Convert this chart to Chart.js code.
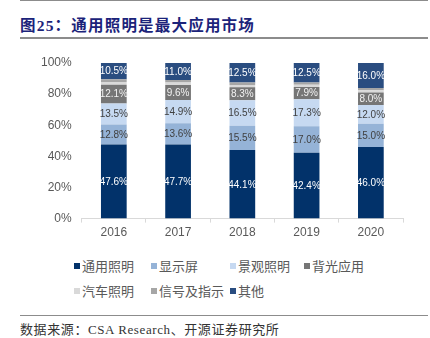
<!DOCTYPE html>
<html>
<head>
<meta charset="utf-8">
<script src="https://cdn.jsdelivr.net/npm/chart.js@4.4.0/dist/chart.umd.min.js"></script>
<style>
  html, body { margin: 0; padding: 0; background: #fff; }
  #page { position: relative; width: 430px; height: 338px; overflow: hidden; background: #fff; }
  .rule { position: absolute; left: 20px; width: 408px; background: #8c8c8c; }
  #title {
    position: absolute; left: 20px; top: 13px;
    font-family: "Liberation Serif", "Noto Sans CJK SC", serif;
    font-weight: 700; font-size: 15.5px; letter-spacing: 1.2px;
    color: #1b237a; white-space: nowrap;
  }
  #chartBox { position: absolute; left: 0; top: 45px; width: 430px; height: 205px; }
  #legend {
    position: absolute; left: 74px; top: 257px;
    display: grid; grid-template-columns: 77px 79px 74px auto;
    row-gap: 8px;
    font-family: "Noto Sans CJK SC", sans-serif; font-size: 13px; color: #595959;
  }
  .item { display: flex; align-items: center; white-space: nowrap; height: 17px; }
  .swatch { width: 6px; height: 6px; margin-right: 2px; flex: none; }
  #source {
    position: absolute; left: 20px; top: 319px;
    font-family: "Liberation Serif", "Noto Sans CJK SC", serif;
    font-size: 13px; color: #333; white-space: nowrap; letter-spacing: 0.6px;
  }
</style>
</head>
<body>
<div id="page">
  <div class="rule" style="top:0px;height:1px;"></div>
  <div id="title">图25：通用照明是最大应用市场</div>
  <div class="rule" style="top:37px;height:2px;"></div>
  <div id="chartBox"><canvas id="c"></canvas></div>
  <div id="legend"></div>
  <div class="rule" style="top:315px;height:1px;"></div>
  <div id="source">数据来源：CSA Research、开源证券研究所</div>
</div>
<script>
// LED application market share by year (%)
const years = ['2016', '2017', '2018', '2019', '2020'];
const generalLighting = [47.6, 47.7, 44.1, 42.4, 46.0];
const displayScreens  = [12.8, 13.6, 15.5, 17.0, 15.0];
const landscape       = [13.5, 14.9, 16.5, 17.3, 12.0];
const backlight       = [12.1,  9.6,  8.3,  7.9,  8.0];
const automotive      = [ 1.8,  1.6,  1.5,  1.4,  1.5];
const signalling      = [ 1.7,  1.6,  1.6,  1.5,  1.5];
const others          = [10.5, 11.0, 12.5, 12.5, 16.0];
const yTicks = [0, 20, 40, 60, 80, 100];

const series = [
  { label: '通用照明',   data: generalLighting, color: '#02326a', text: '#ffffff', show: true },
  { label: '显示屏',     data: displayScreens,  color: '#95b3d7', text: '#404040', show: true },
  { label: '景观照明',   data: landscape,       color: '#c6d9f1', text: '#404040', show: true },
  { label: '背光应用',   data: backlight,       color: '#767676', text: '#f2f2f2', show: true },
  { label: '汽车照明',   data: automotive,      color: '#d9d9d9', text: '#404040', show: false },
  { label: '信号及指示', data: signalling,      color: '#a6a6a6', text: '#404040', show: false },
  { label: '其他',       data: others,          color: '#2a4d80', text: '#ffffff', show: true }
];

// value labels centred in each segment
const segmentLabels = {
  id: 'segmentLabels',
  afterDatasetsDraw(chart) {
    const ctx = chart.ctx;
    ctx.save();
    ctx.font = '10px "Liberation Sans", Arial, sans-serif';
    ctx.textAlign = 'center';
    ctx.textBaseline = 'middle';
    chart.data.datasets.forEach((ds, i) => {
      if (!ds.showValues) return;
      const meta = chart.getDatasetMeta(i);
      meta.data.forEach((bar, j) => {
        const p = bar.getProps(['x', 'y', 'base'], true);
        ctx.fillStyle = ds.valueColor;
        ctx.fillText(ds.data[j].toFixed(1) + '%', p.x, (p.y + p.base) / 2 + 0.5);
      });
    });
    ctx.restore();
  }
};

const chart = new Chart(document.getElementById('c'), {
  type: 'bar',
  data: {
    labels: years,
    datasets: series.map(s => ({
      label: s.label,
      data: s.data,
      backgroundColor: s.color,
      borderWidth: 0,
      showValues: s.show,
      valueColor: s.text,
      categoryPercentage: 1,
      barPercentage: 0.4
    }))
  },
  options: {
    responsive: true,
    maintainAspectRatio: false,
    animation: false,
    layout: { padding: { left: 31, right: 27, top: 18, bottom: 7 } },
    plugins: { legend: { display: false }, tooltip: { enabled: false } },
    scales: {
      x: {
        stacked: true,
        grid: { display: true, drawOnChartArea: false, drawTicks: true, tickLength: 4, color: '#d9d9d9', offset: true },
        border: { display: true, color: '#d9d9d9', width: 1 },
        ticks: { color: '#595959', padding: 3, font: { family: '"Liberation Sans", Arial, sans-serif', size: 12 } }
      },
      y: {
        stacked: true,
        min: 0, max: 100,
        afterBuildTicks(scale) { scale.ticks = yTicks.map(v => ({ value: v })); },
        grid: { display: false, drawTicks: false },
        border: { display: false },
        ticks: {
          color: '#595959', padding: 10,
          font: { family: '"Liberation Sans", Arial, sans-serif', size: 12 },
          callback: v => v + '%'
        }
      }
    }
  },
  plugins: [segmentLabels]
});

// legend built from the chart's datasets
const legend = document.getElementById('legend');
chart.data.datasets.forEach(ds => {
  const item = document.createElement('div');
  item.className = 'item';
  const sw = document.createElement('span');
  sw.className = 'swatch';
  sw.style.background = ds.backgroundColor;
  const tx = document.createElement('span');
  tx.textContent = ds.label;
  item.appendChild(sw);
  item.appendChild(tx);
  legend.appendChild(item);
});
</script>
</body>
</html>
